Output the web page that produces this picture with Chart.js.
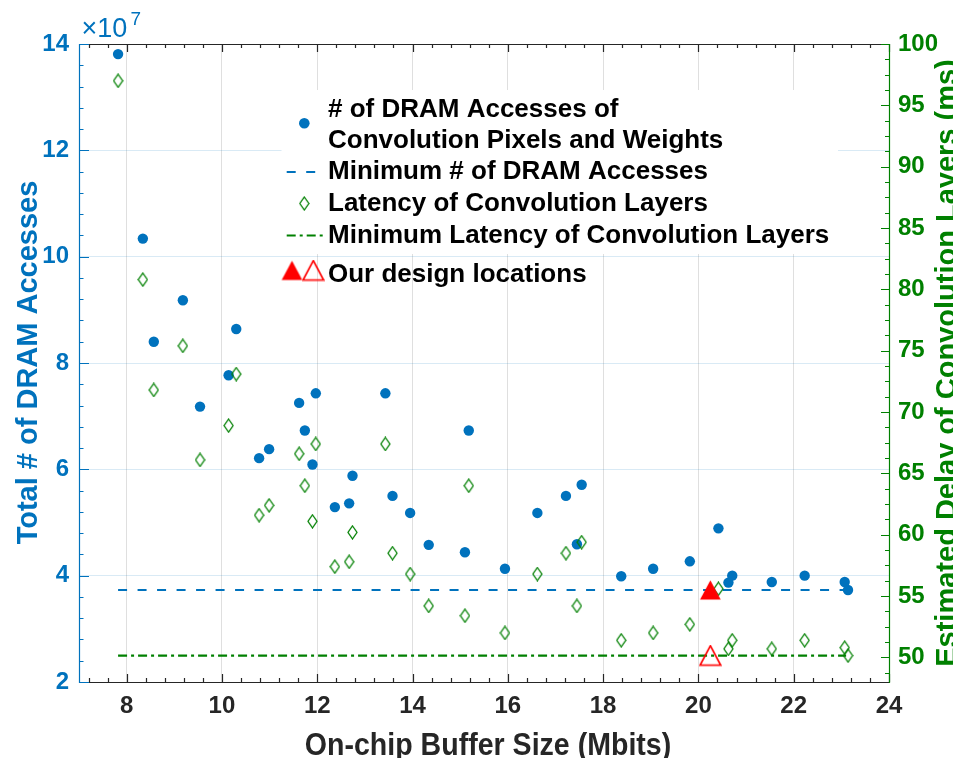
<!DOCTYPE html>
<html>
<head>
<meta charset="utf-8">
<script src="https://cdn.jsdelivr.net/npm/chart.js@4.4.0/dist/chart.umd.min.js"></script>
<style>
  html, body { margin: 0; padding: 0; background: #fff; }
  #wrap { width: 953px; height: 758px; }
</style>
</head>
<body>
<div id="wrap"><canvas id="chart" width="953" height="758"></canvas></div>
<script>
// On-chip buffer size (Mbits) of every explored design
const bufferSizes = [7.82, 8.34, 8.57, 9.18, 9.54, 10.14, 10.30, 10.78, 10.99, 11.62, 11.74, 11.90, 11.97,
  12.37, 12.67, 12.74, 13.43, 13.58, 13.95, 14.34, 15.10, 15.18, 15.94, 16.62, 17.22, 17.45, 17.55,
  18.38, 19.05, 19.82, 20.42, 20.63, 20.71, 21.54, 22.23, 23.07, 23.14];
// # of DRAM accesses (x 1e7)
const dramAccesses = [13.81, 10.34, 8.40, 9.18, 7.18, 7.77, 8.64, 6.21, 6.38, 7.25, 6.73, 6.09, 7.43,
  5.29, 5.36, 5.88, 7.43, 5.50, 5.18, 4.58, 4.44, 6.73, 4.13, 5.18, 5.50, 4.59, 5.71,
  3.99, 4.13, 4.27, 4.89, 3.87, 4.00, 3.88, 4.00, 3.88, 3.73];
// latency of convolution layers (ms)
const latencies = [97.0, 80.8, 71.8, 75.4, 66.1, 68.9, 73.1, 61.6, 62.4, 66.6, 64.0, 61.1, 67.4,
  57.4, 57.8, 60.2, 67.4, 58.5, 56.8, 54.2, 53.4, 64.0, 52.0, 56.8, 58.5, 54.2, 59.4,
  51.4, 52.0, 52.7, 55.6, 50.7, 51.4, 50.7, 51.4, 50.8, 50.15];

const minDram = 3.73;
const minLatency = 50.15;
const minLineSpan = [7.82, 23.1];
const designSize = 20.25;

const xTicks = [8, 10, 12, 14, 16, 18, 20, 22, 24];
const leftTicks = [2, 4, 6, 8, 10, 12, 14];
const rightTicks = [50, 55, 60, 65, 70, 75, 80, 85, 90, 95, 100];

const legendLabels = [
  ['# of DRAM Accesses of', 'Convolution Pixels and Weights'],
  ['Minimum # of DRAM Accesses'],
  ['Latency of Convolution Layers'],
  ['Minimum Latency of Convolution Layers'],
  ['Our design locations']
];

const BLUE = '#0072BD', GREEN = '#008000', DARK = '#262626', RED = '#FF0000';
const FONT = "'Liberation Sans', Arial, sans-serif";
const DASH = [9, 10.5];
const DASHDOT = [9, 4, 3, 4];

// tall diamond marker like MATLAB's 'd'
function diamondImg() {
  const c = document.createElement('canvas');
  c.width = 11; c.height = 15;
  const g = c.getContext('2d');
  g.strokeStyle = GREEN; g.lineWidth = 1.3;
  g.beginPath();
  g.moveTo(5.5, 1); g.lineTo(10, 7.5); g.lineTo(5.5, 14); g.lineTo(1, 7.5);
  g.closePath(); g.stroke();
  return c;
}
function triangleImg(filled) {
  const c = document.createElement('canvas');
  c.width = 23; c.height = 22;
  const g = c.getContext('2d');
  g.beginPath();
  g.moveTo(11.5, 1.2); g.lineTo(21.8, 20.5); g.lineTo(1.2, 20.5); g.closePath();
  if (filled) { g.fillStyle = RED; g.fill(); }
  else { g.strokeStyle = RED; g.lineWidth = 1.7; g.stroke(); }
  return c;
}
const diamond = diamondImg();
const triFilled = triangleImg(true);
const triOpen = triangleImg(false);

const LEGEND_BOX = { x1: 281.5, y1: 90, x2: 838, y2: 254 };

const frameAndText = {
  id: 'frameAndText',
  beforeDatasetsDraw(chart) {
    // legend background hides the grid below it
    const ctx = chart.ctx;
    ctx.save();
    ctx.fillStyle = '#fff';
    ctx.fillRect(LEGEND_BOX.x1, LEGEND_BOX.y1, LEGEND_BOX.x2 - LEGEND_BOX.x1, LEGEND_BOX.y2 - LEGEND_BOX.y1);
    ctx.restore();
  },
  afterDatasetsDraw(chart) {
    const ctx = chart.ctx;
    ctx.save();
    // markers
    ctx.fillStyle = BLUE;
    ctx.beginPath(); ctx.arc(304.3, 123.3, 5.3, 0, Math.PI * 2); ctx.fill();
    ctx.lineWidth = 2.2;
    ctx.strokeStyle = BLUE; ctx.setLineDash(DASH);
    ctx.beginPath(); ctx.moveTo(286.7, 172); ctx.lineTo(316, 172); ctx.stroke();
    ctx.drawImage(diamond, 304.3 - 5.5, 203.5 - 7.5);
    ctx.strokeStyle = GREEN; ctx.setLineDash(DASHDOT);
    ctx.beginPath(); ctx.moveTo(286.7, 235.5); ctx.lineTo(324.5, 235.5); ctx.stroke();
    ctx.setLineDash([]);
    ctx.drawImage(triFilled, 292 - 11.5, 270.5 - 11);
    ctx.drawImage(triOpen, 313.3 - 11.5, 270.5 - 11);
    // labels
    ctx.fillStyle = '#000';
    ctx.font = 'bold 26px ' + FONT;
    ctx.textBaseline = 'alphabetic';
    ctx.textAlign = 'left';
    const baselines = [[117, 148], [179], [211], [243], [282]];
    legendLabels.forEach((lines, i) => {
      lines.forEach((t, j) => ctx.fillText(t, 328, baselines[i][j]));
    });
    ctx.restore();
  },
  afterDraw(chart) {
    const ctx = chart.ctx;
    const { left, right, top, bottom } = chart.chartArea;
    const sx = chart.scales.x, sy = chart.scales.y, sy2 = chart.scales.y2;
    ctx.save();
    ctx.lineWidth = 1.2;
    // x ticks (top and bottom, inward)
    ctx.strokeStyle = DARK;
    ctx.beginPath();
    for (let i = 18; i <= 60; i++) {
      const v = i * 0.4;
      const major = Math.abs(v / 2 - Math.round(v / 2)) < 1e-6;
      const len = major ? 8 : 4;
      const px = Math.round(sx.getPixelForValue(v)) + 0.5;
      ctx.moveTo(px, bottom); ctx.lineTo(px, bottom - len);
      ctx.moveTo(px, top); ctx.lineTo(px, top + len);
    }
    ctx.moveTo(left, top + 0.5); ctx.lineTo(right, top + 0.5);
    ctx.moveTo(left, bottom + 0.5); ctx.lineTo(right, bottom + 0.5);
    ctx.stroke();
    // left axis
    ctx.strokeStyle = BLUE;
    ctx.beginPath();
    for (let i = 0; i <= 30; i++) {
      const v = 2 + i * 0.4;
      const major = Math.abs(v / 2 - Math.round(v / 2)) < 1e-6;
      const py = Math.round(sy.getPixelForValue(v)) + 0.5;
      ctx.moveTo(left, py); ctx.lineTo(left + (major ? 10 : 4.5), py);
    }
    ctx.moveTo(left + 0.5, top); ctx.lineTo(left + 0.5, bottom + 1);
    ctx.stroke();
    // right axis
    ctx.strokeStyle = GREEN;
    ctx.beginPath();
    for (let i = 0; i <= 41; i++) {
      const v = 48.75 + i * 1.25;
      if (v > 100.01) break;
      const major = Math.abs(v / 5 - Math.round(v / 5)) < 1e-6;
      const py = Math.round(sy2.getPixelForValue(v)) + 0.5;
      ctx.moveTo(right, py); ctx.lineTo(right - (major ? 8 : 4), py);
    }
    ctx.moveTo(right + 0.5, top); ctx.lineTo(right + 0.5, bottom + 1);
    ctx.stroke();

    // exponent label
    ctx.fillStyle = BLUE;
    ctx.textBaseline = 'alphabetic';
    ctx.textAlign = 'left';
    ctx.font = '27px ' + FONT;
    ctx.fillText('\u00D710', 81.5, 36.7);
    ctx.font = '19px ' + FONT;
    ctx.fillText('7', 130.5, 25);

    // axis titles
    ctx.font = 'bold 29px ' + FONT;
    ctx.textAlign = 'center';
    ctx.save();
    ctx.translate(36.7, 362.5);
    ctx.rotate(-Math.PI / 2);
    ctx.fillText('Total # of DRAM Accesses', 0, 0);
    ctx.restore();

    ctx.fillStyle = GREEN;
    ctx.save();
    ctx.translate(956, 363);
    ctx.rotate(-Math.PI / 2);
    ctx.fillText('Estimated Delay of Convolution Layers (ms)', 0, 0);
    ctx.restore();

    ctx.fillStyle = DARK;
    ctx.save();
    ctx.translate(488, 755);
    ctx.scale(1.02, 1.1);
    ctx.font = 'bold 28px ' + FONT;
    ctx.fillText('On-chip Buffer Size (Mbits)', 0, 0);
    ctx.restore();
    ctx.restore();
  }
};

const dramPoints = bufferSizes.map((x, i) => ({ x, y: dramAccesses[i] }));
const latencyPoints = bufferSizes.map((x, i) => ({ x, y: latencies[i] }));
const tickFont = { family: FONT, size: 24, weight: 'bold', lineHeight: 1.2 };

new Chart(document.getElementById('chart'), {
  type: 'scatter',
  data: {
    datasets: [
      {
        label: 'Our design (min DRAM)',
        data: [{ x: designSize, y: minDram }],
        yAxisID: 'y',
        pointStyle: triFilled, pointRadius: 11, order: 0
      },
      {
        label: 'Our design (min latency)',
        data: [{ x: designSize, y: minLatency }],
        yAxisID: 'y2',
        pointStyle: triOpen, pointRadius: 11, order: 1
      },
      {
        label: legendLabels[3][0],
        data: minLineSpan.map(x => ({ x, y: minLatency })),
        yAxisID: 'y2',
        showLine: true, borderColor: GREEN, borderWidth: 2.2, borderDash: DASHDOT,
        pointRadius: 0, order: 2
      },
      {
        label: legendLabels[2][0],
        data: latencyPoints,
        yAxisID: 'y2',
        pointStyle: diamond, pointRadius: 6, order: 3
      },
      {
        label: legendLabels[1][0],
        data: minLineSpan.map(x => ({ x, y: minDram })),
        yAxisID: 'y',
        showLine: true, borderColor: BLUE, borderWidth: 2.2, borderDash: DASH,
        pointRadius: 0, order: 4
      },
      {
        label: legendLabels[0].join(' '),
        data: dramPoints,
        yAxisID: 'y',
        pointStyle: 'circle', pointRadius: 5.2, pointBackgroundColor: BLUE, pointBorderWidth: 0,
        order: 5
      }
    ]
  },
  options: {
    responsive: false,
    animation: false,
    layout: { padding: { top: 44, left: 0, right: 0, bottom: 0 } },
    plugins: { legend: { display: false }, tooltip: { enabled: false } },
    scales: {
      x: {
        type: 'linear', position: 'bottom', min: 7, max: 24,
        afterFit: s => { s.height = 76; },
        afterBuildTicks: s => { s.ticks = xTicks.map(v => ({ value: v })); },
        grid: { color: 'rgba(38,38,38,0.15)', lineWidth: 1, drawTicks: false },
        border: { display: false },
        ticks: { color: DARK, font: tickFont, padding: 10, maxRotation: 0, autoSkip: false }
      },
      y: {
        type: 'linear', position: 'left', min: 2, max: 14,
        afterFit: s => { s.width = 79; },
        afterBuildTicks: s => { s.ticks = leftTicks.map(v => ({ value: v })); },
        grid: { color: 'rgba(0,114,189,0.15)', lineWidth: 1, drawTicks: false },
        border: { display: false },
        ticks: { color: BLUE, font: tickFont, padding: 10, autoSkip: false }
      },
      y2: {
        type: 'linear', position: 'right', min: 48, max: 100,
        afterFit: s => { s.width = 64; },
        afterBuildTicks: s => { s.ticks = rightTicks.map(v => ({ value: v })); },
        grid: { display: false, drawTicks: false },
        border: { display: false },
        ticks: { color: GREEN, font: tickFont, padding: 9, autoSkip: false }
      }
    }
  },
  plugins: [frameAndText]
});
</script>
</body>
</html>
